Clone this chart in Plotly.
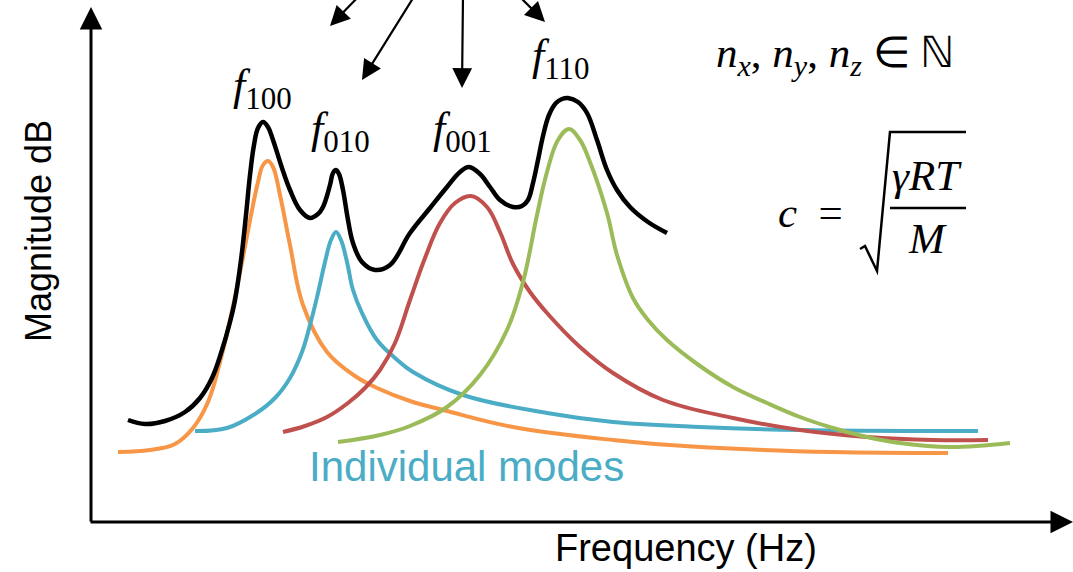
import plotly.graph_objects as go

# ---- data (frequency, magnitude) in schematic units; origin at axes corner ----
X0, Y0 = 91, 522  # reference frame helper for conversion of read-off positions

def fx(px):
    return px - X0

def fy(py):
    return Y0 - py

orange_px = [118,150,175,193,208,220,232,243,252,258,263,268,273,280,290,303,327,355,377,410,447,513,613,700,833,948]
orange_py = [452,450,444,428,402,362,311,257,210,182,165,161,167,195,245,305,352,376,388,401,411,427,440,447,452,453]

blue_px = [195,227,255,275,290,302,310,318,325,331,336,341,347,353,362,377,395,413,463,547,613,700,800,978]
blue_py = [431,428,414,398,378,352,325,293,262,240,232,240,262,290,313,340,358,372,395,413,422,427,430,431]

red_px = [283,305,327,348,365,380,395,410,425,440,455,471,487,500,513,530,547,580,613,663,733,800,867,933,988]
red_py = [432,426,417,403,388,370,343,300,258,223,203,196,207,232,264,292,313,347,373,400,418,430,437,440,440]

green_px = [338,380,410,447,480,507,523,537,547,558,569,580,590,607,617,633,648,667,700,733,767,800,833,867,900,950,1010]
green_py = [442,435,426,407,375,330,282,215,172,140,129,140,162,213,255,298,320,340,366,387,403,417,428,437,443,447,443]

black_px = [128,145,165,185,200,212,222,230,235,241,246,250,254,258,263,268,273,282,290,300,310,318,323,330,333,336,339,343,348,353,362,375,390,410,430,447,460,469,480,490,500,513,522,528,533,538,543,549,556,562,568,578,587,597,607,617,630,648,667]
black_py = [420,424,421,412,398,378,350,322,300,260,215,175,145,128,122,127,140,168,190,210,218,214,207,185,173,170,174,190,220,243,262,270,265,233,208,187,172,167,174,187,200,207,206,200,183,160,136,115,103,99,98,102,113,140,170,190,207,222,233]

orange = ([fx(v) for v in orange_px], [fy(v) for v in orange_py])
blue = ([fx(v) for v in blue_px], [fy(v) for v in blue_py])
red = ([fx(v) for v in red_px], [fy(v) for v in red_py])
green = ([fx(v) for v in green_px], [fy(v) for v in green_py])
black = ([fx(v) for v in black_px], [fy(v) for v in black_py])

series = [
    ("f100", orange, "#F79646", 4),
    ("f010", blue, "#4BACC6", 4),
    ("f001", red, "#C0504D", 4),
    ("f110", green, "#9BBB59", 4),
    ("total", black, "#000000", 4.5),
]

fig = go.Figure()
for name, (xs, ys), col, w in series:
    fig.add_trace(go.Scatter(x=xs, y=ys, mode="lines", name=name,
                             line=dict(color=col, width=w, shape="spline", smoothing=1.1),
                             hoverinfo="skip", showlegend=False))

MATH = "Liberation Serif"
SANS = "Liberation Sans"
ann = []

def text(px, py, t, size, color="#000", font=MATH, angle=0):
    ann.append(dict(x=fx(px), y=fy(py), xref="x", yref="y", text=t, showarrow=False,
                    font=dict(family=font, size=size, color=color), textangle=angle,
                    xanchor="center", yanchor="middle"))

def arrow(tx, ty, hx, hy, w=2.2, size=1.8):
    ann.append(dict(x=fx(hx), y=fy(hy), ax=fx(tx), ay=fy(ty), xref="x", yref="y",
                    axref="x", ayref="y", text="", showarrow=True, arrowhead=2,
                    arrowsize=size, arrowwidth=w, arrowcolor="#000", standoff=0))

# axes
arrow(91, 523, 91, 7, w=3, size=1.5)
arrow(89, 522, 1073, 522, w=3, size=1.5)

# top arrows
arrow(360, -5, 330, 26)
arrow(415, -5, 362, 80)
arrow(463, -5, 462, 88)
arrow(518, -5, 545, 22)

def fsub(d):
    return f"<i>f</i><sub><span style='font-size:31px'>{d}</span></sub>"

# labels
text(38, 231, "Magnitude dB", 36, font=SANS, angle=-90)
text(686, 548, "Frequency (Hz)", 38, font=SANS)
text(466, 466, "Individual modes", 42, color="#4BACC6", font=SANS)

text(262, 88, fsub("100"), 44)
text(340, 131, fsub("010"), 44)
text(462, 131, fsub("001"), 44)
text(561, 58, fsub("110"), 44)

nx = "<i>n</i><sub><span style='font-size:30px'><i>x</i></span></sub>"
ny = "<i>n</i><sub><span style='font-size:30px'><i>y</i></span></sub>"
nz = "<i>n</i><sub><span style='font-size:30px'><i>z</i></span></sub>"
text(835, 55, f"{nx}, {ny}, {nz} ∈ ℕ", 43)
text(810, 212, "<i>c</i>  =", 43)
text(927, 175, "<i>γRT</i>", 43)
text(927, 238, "<i>M</i>", 43)

shapes = [
    dict(type="path", xref="x", yref="y",
         path=f"M {fx(860)},{fy(249)} L {fx(865)},{fy(246)} L {fx(877)},{fy(271)} L {fx(890)},{fy(132)} L {fx(966)},{fy(132)}",
         line=dict(color="#000", width=2.5)),
    dict(type="line", xref="x", yref="y", x0=fx(890), x1=fx(966), y0=fy(208), y1=fy(208),
         line=dict(color="#000", width=2.5)),
]

fig.update_layout(
    width=1073, height=572,
    margin=dict(l=0, r=0, t=0, b=0),
    paper_bgcolor="white", plot_bgcolor="white",
    xaxis=dict(range=[fx(0), fx(1073)], visible=False, fixedrange=True),
    yaxis=dict(range=[fy(572), fy(0)], visible=False, fixedrange=True),
    annotations=ann, shapes=shapes,
)

fig.write_html("out.html")
